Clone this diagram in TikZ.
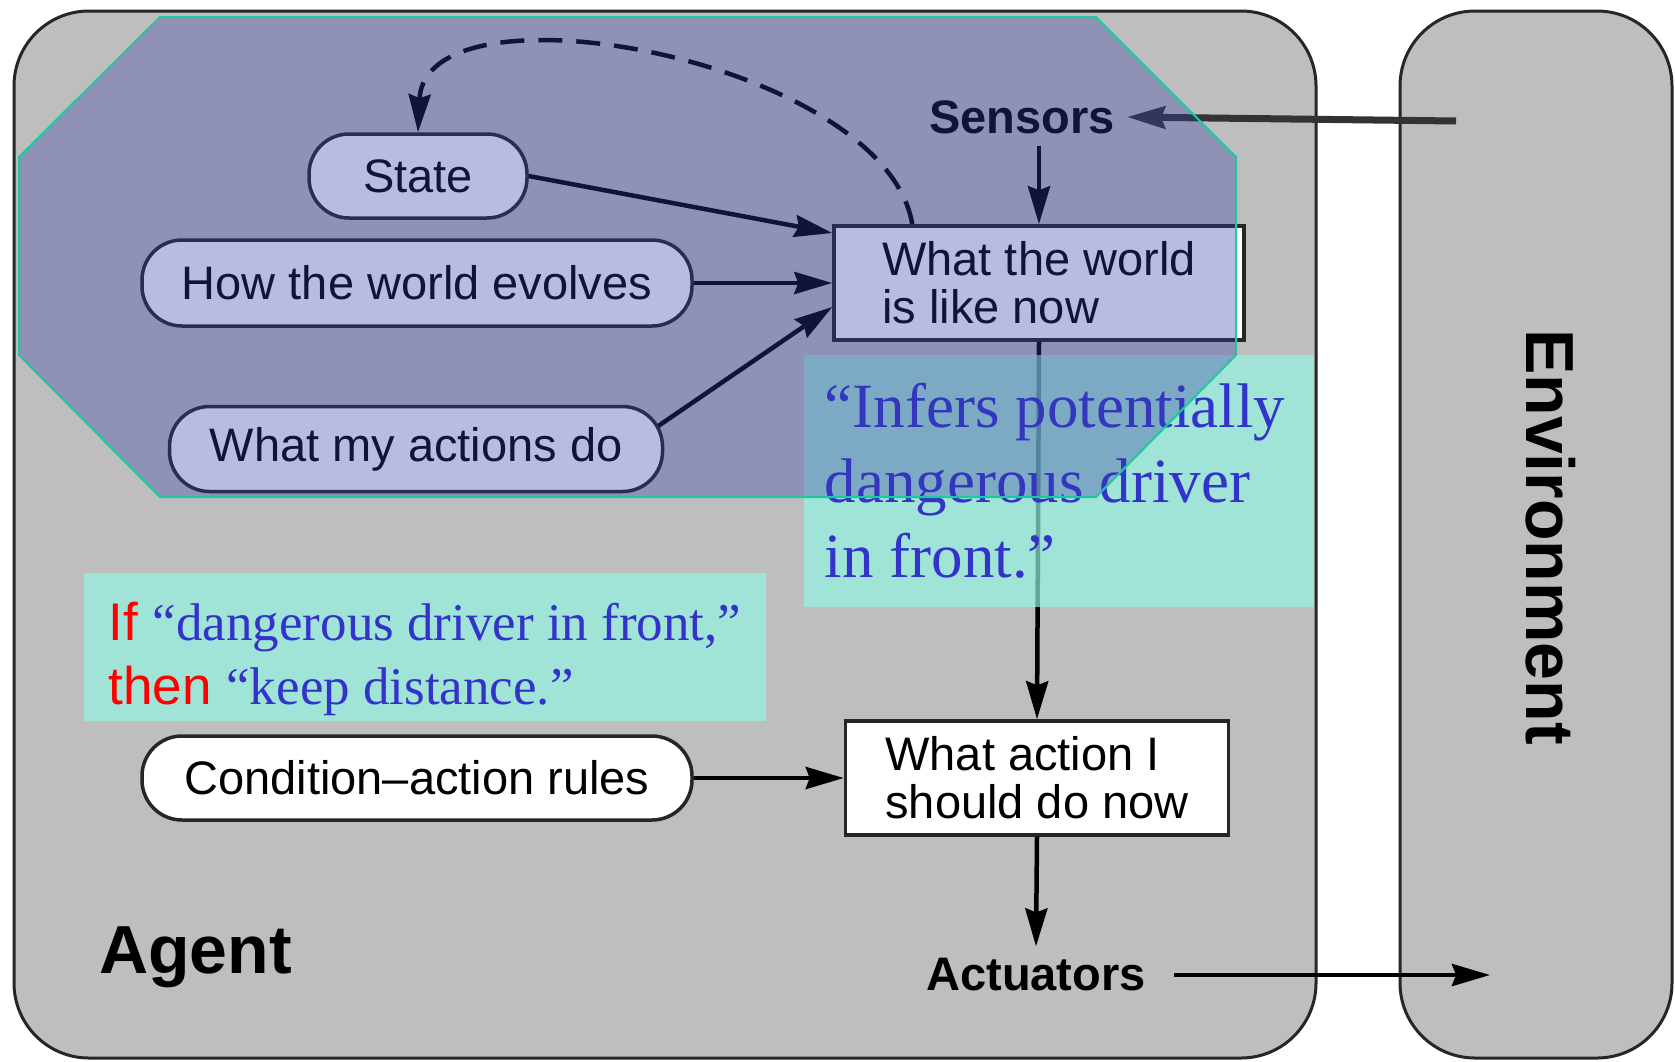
\documentclass[tikz,border=0pt]{standalone}
\usepackage{fontspec}
\setmainfont{Liberation Sans}
\newfontfamily\quotefont{Liberation Serif}
\usetikzlibrary{arrows.meta}

\definecolor{agentgray}{RGB}{190,190,190}
\definecolor{tintblue}{RGB}{55,61,164}
\definecolor{notegreen}{RGB}{146,246,228}
\definecolor{hullgreen}{RGB}{30,200,160}
\definecolor{quoteblue}{RGB}{51,51,204}

\begin{document}
\begin{tikzpicture}[
    x=1pt, y=-1pt,
    shell/.style={draw=black!85, line width=3pt, fill=agentgray, rounded corners=75pt},
    pill/.style={draw=black!85, line width=3.5pt, fill=white, rounded corners=40pt, font=\fontsize{47}{48}\selectfont},
    box/.style={draw=black!85, line width=3.5pt, fill=white, align=left, font=\fontsize{47}{48}\selectfont},
    port/.style={font=\bfseries\fontsize{47}{48}\selectfont, inner sep=12pt},
    title/.style={font=\bfseries\fontsize{68}{70}\selectfont, inner sep=0pt},
    note/.style={fill=notegreen, fill opacity=0.68, text opacity=1, align=left, inner sep=0pt},
    flow/.style={->, line width=4.5pt},
    >={Stealth[length=38pt,width=22pt,inset=4pt]}
]
\useasboundingbox (0,0) rectangle (1675,1061);
\fill[white] (0,0) rectangle (1675,1061);

% Agent and environment
\draw[shell] (14,11) rectangle (1316,1058);
\draw[shell] (1400,11) rectangle (1672,1058);
\node[title, anchor=base west] (agent) at (99,973) {Agent};
\node[title, rotate=-90] (env) at (1551,537) {Environment};

% Model of the world
\node[pill, minimum width=218pt, minimum height=84pt] (state) at (418,176) {State};
\node[pill, minimum width=550pt, minimum height=86pt] (evolves) at (417,283) {How the world evolves};
\node[pill, minimum width=493pt, minimum height=85pt] (effects) at (416,449) {What my actions do};
\node[box, minimum width=410pt, minimum height=114pt] (world) at (1039,283) {What the world\\is like now};

% Rules and decision
\node[pill, minimum width=550pt, minimum height=84pt] (rules) at (417,778) {Condition–action rules};
\node[box, minimum width=383pt, minimum height=114pt] (action) at (1037,778) {What action I\\should do now};

\node[port] (sensors) at (1022,117) {Sensors};
\node[port] (actuators) at (1036,975) {Actuators};
\coordinate (envin) at (1456,121);
\coordinate (envout) at (1490,975);

% Connections
\draw[flow] (state.east) -- ([yshift=50pt]world.west);
\draw[flow] (evolves.east) -- (world.west);
\draw[flow] ([shift={(-6pt,23pt)}]effects.east) -- ([yshift=-24pt]world.west);
\draw[flow, dash pattern=on 24pt off 14pt] ([xshift=80pt]world.north west) .. controls (885,60) and (425,-25) .. (state.north);
\draw[flow] (world.north |- sensors.south) -- (world.north);
\draw[flow, draw=black!80, line width=7pt] (envin) -- (sensors.east);
\draw[flow] (world.south) -- (action.north);
\draw[flow] (rules.east) -- (action.west);
\draw[flow] (action.south) -- (actuators.north);
\draw[flow, shorten <=16pt] (actuators.east) -- (envout);

% Notes
\node[note, minimum width=682pt, minimum height=148pt, font=\fontsize{53}{64}\selectfont] (ifnote) at (425,647)
  {\rule{0pt}{62pt}{\color{red}If} {\quotefont\color{quoteblue}“dangerous driver in front,”}\\{\color{red}then} {\quotefont\color{quoteblue}“keep distance.”}};
\node[note, minimum width=510pt, minimum height=252pt, font=\quotefont\fontsize{63}{75}\selectfont, text=quoteblue] (infernote) at (1059,481)
  {“Infers potentially\hspace*{8pt}\\dangerous driver\\in front.”};

% Highlighted part
\draw[hullgreen, line width=2pt, fill=tintblue, fill opacity=0.34]
  (160,17) -- (1096,17) -- (1236,157) -- (1236,355) -- (1096,497) -- (160,497) -- (19,355) -- (19,157) -- cycle;
\end{tikzpicture}
\end{document}
